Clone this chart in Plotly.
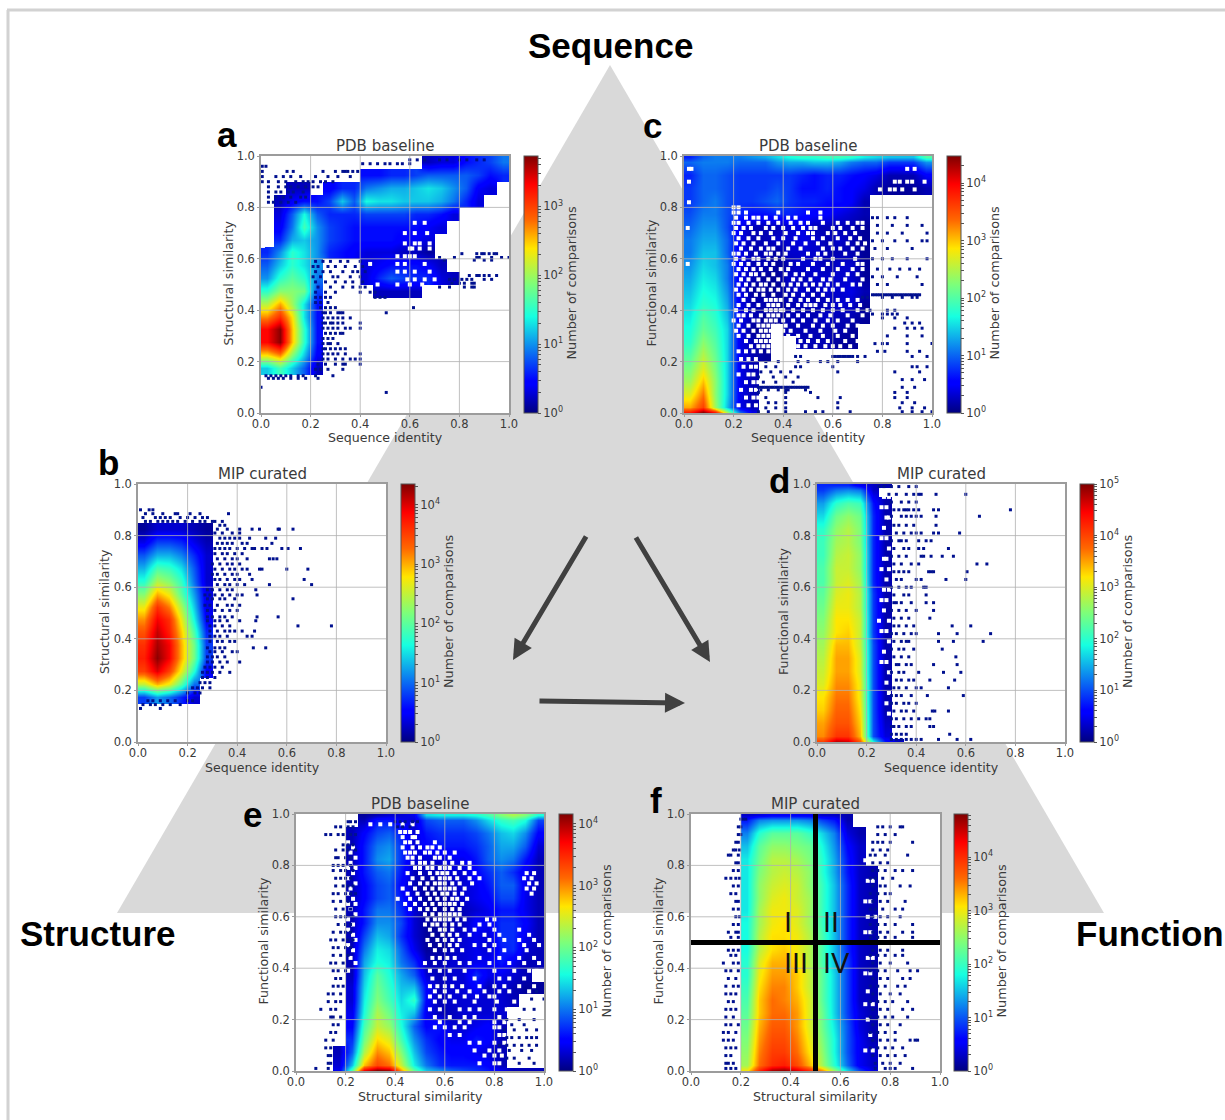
import math
import plotly.graph_objects as go

_ = None
TICKS = [0.0, 0.2, 0.4, 0.6, 0.8, 1.0]
X_CENTERS = [0.025 + 0.05 * i for i in range(20)]
Y_CENTERS_TOP_DOWN = [0.975 - 0.05 * i for i in range(20)]

# log10(count) x 10, top row first, left column first; short rows are blank on the right
a_rows = [
 [_,_,_,_,_,_,_,_,_,_,_,_,_,2,3,3,5,6,7,9],
 [_,_,_,_,_,_,_,_,5,5,6,6,7,8,8,8,8,7,5,6],
 [_,_,2,2,_,4,6,6,9,10,11,11,12,13,12,10,8,4,3],
 [_,2,4,5,5,7,12,8,14,13,13,12,12,12,11,9,6,3],
 [_,3,8,14,8,6,6,6,7,7,7,7,6,6,5,3],
 [_,4,9,16,10,7,6,5,5,5,5,5,5,4,3],
 [_,6,11,12,10,7,6,5,5,5,5,4,4,3],
 [6,10,15,13,10,6,5,4,3,3,3,2,2,1],
 [8,12,15,13,10,_,_,_,3,4,5,5,5,4,2],
 [10,15,17,15,9,_,_,_,3,6,8,7,6,6,3,2],
 [15,19,19,18,7,_,_,_,_,2,2,2,2],
 [21,26,20,13,5],
 [27,31,24,13,5],
 [33,37,25,15,5],
 [33,37,25,15,5],
 [24,27,19,12,4],
 [12,16,12,8,2],
 [],
 [],
 [],
]
a_top = []
a_floor = []
a_specks = [
 (.96,[.005,.02]),(.94,[.005,.105,.13,.25,.3,.33,.34,.35,.37,.39]),(.92,[.005,.06,.09,.12,.16,.22,.27,.31,.36]),
 (.90,[.005,.03,.07,.1,.14,.17,.19,.21,.24,.26,.29]),(.88,[.03,.07,.1,.12,.15,.18,.21,.23]),(.86,[.03,.06,.08,.11,.13,.17]),
 (.84,[.03,.06,.09,.12,.16,.18]),(.82,[.03,.05,.08,.11,.14]),
 (.985,[.6,.63,.66,.72,.75,.8,.83,.87,.9]),(.97,[.41,.44,.47,.5,.52,.55,.57,.6]),
 (.62,[.81,.87,.89,.9,.92,.94,.95]),(.605,[.72,.78,.87,.88,.93,.97,1.0]),(.595,[.74,.86,.9,.93]),
 (.535,[.84,.87,.88,.9,.92,.95]),(.52,[.76,.78,.81,.83,.85,.9,.93]),(.505,[.77,.8,.82,.85,.86]),(.49,[.72,.76,.82,.85,.86]),
 (.59,[.22,.25,.28,.32,.35,.4]),(.57,[.21,.23,.27,.3,.34,.38,.41]),(.55,[.22,.25,.28,.33,.37,.39,.42]),
 (.53,[.21,.24,.29,.31,.36,.4]),(.51,[.22,.26,.3,.34,.37,.41]),(.49,[.23,.28,.33,.37,.4,.42]),(.47,[.22,.26,.3,.4,.44,.46]),
 (.45,[.22,.24,.26,.28,.46,.48,.5]),(.43,[.22,.24,.27]),(.41,[.24,.26,.28,.3,.615]),
 (.39,[.25,.26,.28,.31,.32,.33,.505]),(.37,[.25,.27,.29,.31,.33,.36]),(.35,[.25,.26,.28,.29,.31,.33,.4]),
 (.33,[.25,.27,.29,.31,.34,.36,.4]),(.31,[.26,.28,.3,.32,.33]),(.29,[.25,.27,.29]),(.27,[.25,.27,.28,.31]),
 (.25,[.25,.26,.28,.3,.32,.34]),(.23,[.25,.27,.29,.31,.34,.4]),(.21,[.25,.27,.3,.33,.36,.38,.4]),(.19,[.23,.26,.3,.33,.34,.4]),
 (.17,[.22,.24,.27,.33]),(.145,[.02,.04,.06,.08,.1,.12,.15,.17,.22,.29]),(.135,[.03,.05,.07,.09,.12,.15,.18,.23]),(.1,[.0]),(.08,[.505]),
]
a_holes = [(.74,[.62,.66]),(.70,[.58,.62,.67]),(.66,[.58,.62,.64,.68]),(.64,[.6,.61,.64,.68]),(.61,[.55,.58,.6,.62]),
           (.58,[.44,.55,.58,.66]),(.55,[.55,.58,.62,.68]),(.52,[.59,.62,.66,.7]),(.5,[.47,.55,.6,.65]),(.8,[.008]),(.7,[.008]),(.65,[.008])]

b_rows = [
 [],
 [],
 [],
 [1,3,3,3,2,1],
 [4,8,8,7,4,2],
 [9,13,13,11,7,3],
 [13,19,18,15,9,3],
 [17,24,22,18,10,3],
 [22,30,27,20,12,4],
 [27,36,32,24,14,4],
 [31,39,36,27,16,5],
 [34,41,37,29,19,7],
 [36,42,39,30,21,8],
 [37,43,39,30,21,8],
 [35,40,35,27,17,5],
 [25,30,27,20,10],
 [8,12,10,7,3],
 [],
 [],
 [],
]
b_top = []
b_floor = []
b_specks = [
 (.90,[.01,.045,.06]),(.885,[.03,.06,.1,.15,.16,.21,.25,.365]),(.87,[.02,.07,.09,.11,.13,.17,.2,.23,.26,.28]),
 (.855,[.03,.05,.08,.1,.12,.14,.16,.19,.22,.25,.27,.3,.31,.34]),(.84,[.33,.35]),
 (.825,[.32,.36,.41,.46,.49,.565,.57,.625]),
 (.81,[.31,.34,.38,.41]),
 (.79,[.33,.35,.37,.39,.41,.45,.555,.515]),(.77,[.32,.34,.36,.38,.42,.44,.54]),
 (.75,[.31,.33,.35,.37,.4,.43,.46,.47,.5,.52,.58,.605,.655]),(.73,[.31,.34,.36,.39,.42]),
 (.71,[.32,.35,.38,.4,.44,.53,.545,.56]),(.69,[.3,.33,.36,.38,.41]),(.67,[.31,.34,.37,.39,.42,.44,.49,.5,.6,.685]),
 (.65,[.3,.32,.35,.38,.4,.45]),(.63,[.31,.33,.36,.39,.41,.46,.67]),(.61,[.32,.35,.37,.4,.43,.53,.7]),
 (.59,[.28,.3,.33,.36,.38,.475]),(.57,[.27,.29,.31,.34,.37,.4,.42,.48]),(.555,[.28,.3,.33,.35,.39,.625]),
 (.53,[.27,.29,.32,.36,.38,.41]),(.51,[.28,.31,.34,.37,.4]),(.485,[.28,.3,.33,.35,.38,.48,.565]),
 (.47,[.28,.31,.33,.36,.41,.475]),(.45,[.29,.31,.34,.37,.645,.78]),(.43,[.29,.32,.35,.37,.39,.42,.47]),
 (.41,[.29,.31,.33,.36,.44,.46]),(.39,[.29,.32,.34,.37,.39]),(.365,[.28,.31,.33,.35,.465,.515]),
 (.35,[.29,.31,.34,.38,.4]),(.33,[.28,.3,.32,.35]),(.31,[.28,.3,.33,.36,.41]),(.29,[.27,.29,.31,.34]),
 (.27,[.26,.28,.3,.33,.37]),(.25,[.26,.28,.31]),(.23,[.25,.27,.29]),(.21,[.22,.24,.26,.29]),(.19,[.2,.23,.25]),
 (.16,[.04,.06,.09,.12,.15,.2,.22]),(.145,[.02,.05,.07,.1,.13,.17]),(.13,[.01,.09]),
]
b_holes = []

c_rows = [
 [10,11,11,11,10,10,10,12,13,13,14,14,13,11,10,10,8,8,8,12],
 [7,10,10,9,8,8,8,8,8,7,6,7,7,6,5,4,2,2,2,5],
 [8,10,10,9,8,8,8,9,8,6,6,7,6,5,4,2,1,1,1,2],
 [8,10,11,9,8,8,9,10,8,7,7,6,6,5,2],
 [9,11,11,9,7,6,6,7,7,6,5,5,4,3,2],
 [10,12,12,9,4,2,2,2,3,4,2,2,2,2,1],
 [11,13,13,10,4,2,2,3,3,4,3,2,3,2,1],
 [11,14,14,10,4,2,2,1,3,3,3,2,2,2,1],
 [12,15,14,11,4,2,2,1,2,3,3,2,3,3,1],
 [13,16,15,11,4,2,1,1,3,2,3,3,3,3,1],
 [14,17,16,12,4,1,1,1,2,3,2,3,3,4,2],
 [15,18,17,13,4,2,2,1,2,2,2,2,3,3,1],
 [16,20,18,14,4,2,1,1,2,2,2,3,2,2,1],
 [17,21,19,15,4,1,1,_,2,2,2,2,2,1],
 [18,23,20,15,4,2,1,_,_,2,2,2,1,1],
 [20,25,21,15,4,2,1,_,_,_,_,_,_,_],
 [22,27,22,15,4,2],
 [24,30,23,15,4,2],
 [27,33,23,15,4,2],
 [31,36,24,14,4,2],
]
c_top = [7,10,11,11,11,12,13,15,17,18,18,19,19,18,16,15,14,14,14,20]
c_floor = [38,44,38,24,10,4]
c_specks = [
 (.46,[.76,.77,.78,.79,.8,.81,.82,.83,.84,.85,.86,.87,.88,.89,.9,.91,.92,.93,.94,.95]),(.45,[.72,.74,.8,.84,.88,.92,.94]),
 (.4,[.75,.82,.85]),(.385,[.76,.8,.82,.84,.86]),(.37,[.8,.85,.9]),(.35,[.89,.92,.95]),(.33,[.85,.9,.93,.96]),(.3,[.82,.9,.96]),
 (.27,[.77,.8,.82,.9,1.0]),(.24,[.78,.81,.9,.95]),(.22,[.92,.98]),(.18,[.92,.94,.98]),(.16,[.85,.95]),(.13,[.88,.92,.97]),
 (.1,[.3,.31,.32,.33,.34,.35,.36,.37,.38,.39,.4,.41,.42,.43,.44,.45,.46,.47,.48,.49,.5,.88,.93]),
 (.08,[.3,.41,.51,.85,.9]),(.06,[.33,.41,.54,.63,.85,.9]),(.04,[.34,.37,.41,.62,.88,.93]),
 (.02,[.33,.37,.41,.62,.87,.92,.97]),(.005,[.3,.34,.41,.49,.53,.56,.67,.88,.92,.96,1.0]),
 (.18,[.33,.37,.45,.47,.6]),(.16,[.31,.35,.39,.43,.62]),(.14,[.3,.36,.41,.46]),
 (.12,[.32,.37,.44]),(.09,[.31,.34,.38,.41,.42,.49]),
 (.22,[.45,.47,.6,.61,.62,.63,.64,.65,.66,.67,.68,.7,.73]),(.2,[.33,.38,.46,.5,.55,.58,.62,.7]),
 (.76,[.76,.78,.82,.85,.9]),(.73,[.78,.84,.9,.96]),(.7,[.78,.82,.88,.98]),(.67,[.76,.8,.85,.9,.96,.98]),(.64,[.77,.82,.92]),
 (.6,[.76,.8,.84,.9,.98]),(.56,[.78,.83,.87,.91,.95]),(.53,[.76,.8,.86,.94]),(.5,[.78,.82,.96]),
]
c_holes = [
 (.78,[.2,.22,.25,.38,.5,.55]),(.76,[.21,.25,.28,.30,.33,.37,.42,.45,.55]),(.74,[.2,.22,.26,.3,.34,.38,.43,.47,.5,.56,.62,.66,.7,.72]),
 (.72,[.21,.24,.27,.33,.36,.4,.44,.48,.51,.53,.6,.63,.68,.72]),(.70,[.2,.23,.28,.31,.35,.41,.46,.5,.52,.58,.61,.65,.69]),
 (.68,[.22,.26,.3,.36,.4,.45,.52,.56,.62,.67,.71]),(.66,[.21,.24,.28,.33,.38,.44,.49,.54,.59,.66,.7,.73]),
 (.64,[.23,.27,.31,.34,.36,.42,.47,.56,.6,.63,.68,.72]),(.62,[.2,.22,.25,.29,.33,.35,.38,.41,.5,.54,.57,.65,.7]),
 (.60,[.21,.24,.28,.3,.34,.37,.4,.48,.53,.55,.6,.69]),(.58,[.2,.23,.26,.3,.33,.36,.43,.46,.52,.58,.64,.7,.72]),
 (.56,[.22,.25,.28,.31,.35,.39,.42,.5,.56,.62,.68,.72]),(.54,[.21,.24,.27,.29,.32,.36,.41,.45,.48,.53,.6,.66,.7]),
 (.52,[.23,.26,.3,.34,.38,.44,.47,.51,.56,.59,.65,.72]),(.50,[.22,.25,.28,.31,.33,.36,.4,.43,.46,.49,.52,.55,.58,.62,.68,.71]),
 (.48,[.21,.24,.27,.3,.32,.35,.38,.42,.45,.5,.54,.57,.6,.64]),(.46,[.22,.25,.29,.32,.36,.41,.44,.48,.52,.56]),
 (.44,[.24,.28,.33,.35,.37,.39,.43,.47,.5,.54,.58,.62,.66,.7]),(.42,[.22,.26,.3,.34,.36,.38,.42,.46,.49,.51,.53,.57,.6,.63,.67,.71]),
 (.40,[.21,.25,.28,.33,.35,.37,.39,.4,.44,.48,.52,.56,.6,.64,.7,.74]),(.38,[.22,.24,.27,.31,.34,.36,.38,.42,.46,.5,.55,.59,.66,.72]),
 (.36,[.2,.23,.28,.3,.33,.35,.37,.4,.44,.48,.53,.58,.62,.68]),(.34,[.22,.26,.3,.32,.34,.36,.38,.41,.46,.52,.56,.6,.66,.7]),
 (.32,[.21,.24,.28,.31,.33,.35,.37,.4,.43,.49,.55,.61,.65,.71]),(.30,[.22,.26,.3,.32,.34,.36,.39,.42,.46,.51,.56,.62,.68]),
 (.28,[.25,.29,.31,.33,.35,.38,.41,.44,.47,.5,.54,.58,.65,.7]),(.26,[.27,.3,.32,.34,.36,.39,.43,.46,.49,.53,.57,.6,.63,.67]),
 (.24,[.22,.25,.28,.31,.34,.37,.4,.44,.47,.51,.55,.58]),
 (.21,[.23,.26,.29]),(.18,[.24,.27,.29]),(.15,[.22,.26,.28]),(.12,[.25,.28,.3]),(.09,[.23,.27,.29]),(.06,[.25,.28,.3]),(.03,[.22,.26,.29]),
 (.95,[.02,.03,.9,.93]),(.9,[.02,.85,.87,.9,.92,.97]),(.87,[.79,.83,.85,.88,.93]),(.84,[.76,.79,.81,.86,.9,.95]),
 (.82,[.02,.77,.8,.83,.87,.92,.97]),(.8,[.2,.22,.9]),(.58,[.015]),(.72,[.015]),
]

d_rows = [
 [9,12,13,12,3],
 [14,20,22,21,7,2],
 [17,24,26,24,8,2],
 [20,26,28,25,8,2],
 [21,27,28,25,8,2],
 [21,28,29,26,8,2],
 [22,29,29,26,8,2],
 [22,29,30,27,8,2],
 [23,30,31,28,9,2],
 [24,31,31,28,9,2],
 [25,32,32,29,9,2],
 [26,32,33,29,9,2],
 [27,34,34,29,10,2],
 [28,35,35,30,10,2],
 [29,35,35,30,10,2],
 [30,36,36,31,10,2],
 [32,37,37,31,10,2],
 [33,38,38,32,10,2],
 [35,39,39,33,10,3],
 [36,41,41,34,10,4],
]
d_top = [8,8,8,5,3,2]
d_floor = [40,47,46,38,18,7,3]
d_specks = [
 (.99,[.25,.27,.3,.33,.37,.4]),(.96,[.29,.32,.36,.39,.41,.6,.48,.42]),(.93,[.3,.34,.37,.4]),(.90,[.31,.33,.35,.36,.37,.39,.41,.47,.49,.78]),
 (.875,[.3,.34,.36,.38,.4,.42,.48,.655]),(.84,[.31,.33,.36,.39,.48]),(.81,[.32,.35,.38,.4,.42,.47,.49,.575]),
 (.78,[.3,.33,.34,.36,.41,.44,.46]),(.75,[.31,.35,.37,.41,.43,.53]),(.72,[.3,.33,.36,.42,.43,.46,.505,.55]),
 (.69,[.31,.34,.38,.41,.645,.685]),(.66,[.31,.33,.35,.37,.45,.46,.47,.605]),(.63,[.32,.34,.4,.42,.52,.6]),
 (.60,[.3,.33,.36,.38,.43,.44]),(.57,[.31,.35,.37,.44]),(.54,[.31,.32,.34,.38,.44,.47]),(.51,[.3,.33,.36,.4,.47]),
 (.48,[.31,.34,.37,.455]),(.45,[.31,.33,.36,.39,.545,.62]),(.42,[.3,.32,.35,.38,.4,.49,.565,.7]),(.39,[.31,.34,.36,.37,.67,.49,.55]),
 (.36,[.3,.33,.35,.39,.505]),(.33,[.31,.34,.37,.56]),(.30,[.32,.33,.36,.38,.47,.565]),(.27,[.3,.33,.35,.41,.51,.58]),
 (.24,[.32,.34,.37,.39,.455,.555]),(.21,[.31,.33,.36,.4,.42,.53]),(.18,[.3,.32,.34,.38,.445,.59]),(.15,[.3,.32,.35,.37,.4]),
 (.12,[.31,.34,.36,.39,.465,.475,.53]),(.09,[.3,.32,.35,.38,.41,.44,.455]),(.06,[.3,.31,.33,.36,.38,.455,.47]),
 (.03,[.3,.32,.34,.36,.535]),(.01,[.3,.32,.34,.36,.38,.4,.42,.49,.565,.62]),
]
d_holes = [(.95,[.27,.29]),(.91,[.26,.28]),(.87,[.28,.29]),(.83,[.27]),(.79,[.26,.28]),(.75,[.29]),(.71,[.27,.28]),(.67,[.26,.29]),
           (.63,[.28]),(.59,[.27,.29]),(.55,[.26,.28]),(.51,[.27]),(.47,[.25,.29]),(.43,[.26,.28]),(.39,[.29]),(.35,[.27]),(.31,[.26,.28]),(.27,[.29]),(.23,[.28]),(.19,[.29]),(.15,[.28]),(.11,[.29])]

e_rows = [
 [_,_,_,_,_,2,6,6,4,3,8,9,9,9,11,14,17,18,16,8],
 [_,_,_,_,2,5,8,9,6,3,6,7,7,7,8,10,13,14,11,5],
 [_,_,_,_,2,6,10,11,7,3,5,6,6,6,7,9,12,12,9,3],
 [_,_,_,_,2,6,11,12,7,3,3,3,4,4,6,9,11,10,6,2],
 [_,_,_,_,2,6,9,10,6,2,2,2,3,3,5,7,9,7,4,2],
 [_,_,_,_,2,5,8,9,5,2,1,1,2,3,4,6,9,9,4,2],
 [_,_,_,_,2,5,8,9,6,3,1,1,2,3,4,5,8,8,4,2],
 [_,_,_,_,2,6,10,10,7,3,1,1,1,2,3,4,6,6,4,2],
 [_,_,_,_,2,6,11,11,8,3,1,1,2,2,5,4,7,7,5,2],
 [_,_,_,_,2,8,13,12,7,3,1,1,2,3,4,3,7,7,4,2],
 [_,_,_,_,2,10,15,14,9,4,1,1,2,3,4,3,6,7,3,2],
 [_,_,_,_,2,12,16,15,10,7,2,2,3,3,4,4,6,4,2,2],
 [_,_,_,_,2,13,19,16,12,9,3,2,3,3,7,4,4,3,2],
 [_,_,_,_,3,14,20,17,13,13,5,2,3,3,5,2,3,2,1,1],
 [_,_,_,_,3,15,21,18,14,17,5,2,3,3,3,3,3,2],
 [_,_,_,_,4,16,23,20,15,13,4,2,2,3,3,3,3],
 [_,_,_,_,5,18,24,22,16,9,5,6,3,3,4,5,2],
 [_,_,_,_,7,20,27,25,18,11,7,5,4,4,6,5,2],
 [_,_,_,2,9,23,30,28,21,13,8,6,5,5,4,3,2],
 [_,_,_,3,13,28,33,31,24,15,10,7,6,6,6,5,2],
]
e_top = [_,_,_,_,_,1,2,3,3,4,14,15,15,15,16,18,21,23,21,16]
e_floor = [_,_,_,4,18,37,41,40,29,19,13,11,9,8,7,6,4,2,2,2]
e_specks = [
 (.97,[.21,.22,.24,.4,.42,.44,.47,.49]),(.95,[.16,.18,.21,.23,.41,.43,.46]),(.92,[.12,.14,.17,.19,.22,.24]),(.88,[.19,.21,.23]),
 (.86,[.16,.19,.21,.24]),(.83,[.16,.17,.2,.22]),(.8,[.15,.17,.19,.22]),(.78,[.15,.18,.2,.23]),(.75,[.16,.18,.2,.22]),(.72,[.16,.19,.21,.23]),
 (.69,[.15,.17,.2,.22,.24]),(.66,[.15,.18,.21]),(.63,[.16,.19,.22]),(.6,[.16,.18,.2,.23]),(.57,[.17,.2,.22]),(.54,[.15,.18,.2,.22]),
 (.51,[.14,.16,.19,.21,.23]),(.48,[.15,.17,.2,.22]),(.45,[.15,.18,.21]),(.42,[.14,.16,.19]),(.39,[.15,.17,.2]),(.36,[.16,.18]),
 (.33,[.15,.17,.19]),(.3,[.13,.15,.18]),(.27,[.13,.16,.18]),(.24,[.1,.14,.16]),(.21,[.14,.15,.18]),(.18,[.15,.17]),(.15,[.14,.16]),
 (.12,[.12,.15]),(.09,[.12,.14]),(.06,[.13,.14]),(.03,[.13,.14]),(.01,[.08,.13]),
 (.13,[.85,.87,.9,.93,.95,.97]),(.1,[.82,.85,.88,.91,.94,.97]),(.08,[.86,.91,.95]),(.05,[.85,.88,.94]),(.03,[.9,.96]),
 (.16,[.84,.88,.93,.97]),(.18,[.87,.92]),(.2,[.85,.9,.96]),(.24,[.92,.96]),(.28,[.95,1.0]),(.31,[.97]),
]
e_holes = [
 (.96,[.3,.34,.38,.43,.47]),(.93,[.42,.44,.46,.49]),(.91,[.43,.47,.48]),(.89,[.21,.44,.46,.49,.56]),(.87,[.23,.43,.47,.5,.53,.55,.58]),
 (.85,[.22,.44,.46,.48,.52,.54,.57,.6,.64]),(.83,[.24,.45,.47,.5,.56,.58,.62]),(.81,[.22,.47,.5,.52,.55,.6,.63,.67,.7]),
 (.79,[.21,.24,.48,.5,.53,.55,.58,.6,.62,.66,.7]),(.77,[.23,.45,.5,.54,.57,.59,.61,.64,.68,.72,.93,.96]),(.75,[.21,.47,.51,.55,.58,.6,.62,.65,.7,.74,.92,.95]),
 (.73,[.24,.46,.5,.53,.56,.58,.6,.63,.66,.71,.94,.97]),(.71,[.22,.43,.48,.52,.55,.58,.6,.62,.64,.68,.93,.96]),(.69,[.21,.45,.49,.53,.56,.59,.61,.64,.67,.95]),
 (.67,[.23,.41,.46,.5,.54,.57,.6,.63,.65,.69]),(.65,[.21,.24,.44,.48,.52,.55,.58,.6,.62,.64,.67]),(.63,[.22,.46,.5,.53,.56,.6,.63,.66]),
 (.61,[.24,.52,.55,.58,.6,.62,.64,.66]),(.59,[.21,.53,.56,.58,.6,.62,.65,.68,.77,.8]),(.57,[.23,.52,.55,.57,.6,.63,.66,.74,.78]),
 (.55,[.21,.54,.58,.6,.63,.68,.72,.8,.9]),(.53,[.23,.55,.59,.62,.65,.7,.76,.82,.94]),(.51,[.24,.53,.57,.6,.63,.66,.78,.84,.9,.96]),
 (.49,[.21,.54,.58,.62,.65,.72,.76,.8,.92,.98]),(.47,[.23,.56,.6,.63,.67,.78,.84,.93]),(.44,[.22,.55,.58,.61,.64,.74,.82,.9,.96]),
 (.42,[.24,.52,.56,.6,.66,.7,.78,.86,.92,.98]),(.39,[.21,.54,.58,.62,.68,.8,.88,.94,.97]),(.36,[.55,.6,.64,.72,.82,.86,.92,.98]),
 (.33,[.54,.57,.6,.63,.67,.74,.8,.84,.9,.96]),(.31,[.56,.6,.65,.7,.76,.82,.86,.94]),(.29,[.54,.58,.62,.68,.73,.78,.8,.92]),
 (.27,[.56,.6,.64,.72,.81,.88,.96]),(.24,[.54,.58,.66,.7,.74,.8,.85,.9]),(.21,[.56,.62,.68,.72,.82,.86,.9,.96]),
 (.19,[.58,.66,.7,.8,.84,.88,.92]),(.17,[.56,.6,.64,.68,.8,.82,.86,.9]),(.14,[.62,.66,.82,.84,.88,.92]),
 (.11,[.7,.74,.8,.84,.9,.94]),(.08,[.72,.78,.82,.88,.92,.94,.97]),(.06,[.76,.8,.83,.92,.97]),(.03,[.74,.8,.82,.86,.9,.94]),
]

f_rows = [
 [_,_,_,_,7,12,13,13,13,12,9,7,2],
 [_,_,_,_,12,19,22,22,22,20,16,12,4,2],
 [_,_,_,_,15,22,25,25,24,23,18,13,6,3],
 [_,_,_,_,17,23,27,27,26,24,19,14,7,3],
 [_,_,_,_,17,24,27,28,27,25,19,14,7,3,2],
 [_,_,_,_,17,25,28,29,28,25,20,15,8,3,2],
 [_,_,_,_,17,25,29,30,28,26,20,15,8,3,2],
 [_,_,_,_,17,26,30,30,29,26,20,15,8,3,2],
 [_,_,_,_,18,26,30,31,29,26,20,15,8,3,2],
 [_,_,_,_,18,27,31,31,30,27,21,15,8,3,2],
 [_,_,_,_,18,27,31,32,30,27,21,15,8,3,2],
 [_,_,_,_,19,29,33,33,31,27,21,15,9,3,2],
 [_,_,_,_,19,30,34,34,32,28,22,16,9,3,2],
 [_,_,_,_,20,31,35,35,32,28,22,16,9,3,2],
 [_,_,_,_,21,32,36,35,33,29,22,16,9,3,2],
 [_,_,_,_,22,32,36,36,34,29,23,16,9,4,2],
 [_,_,_,_,23,33,37,37,34,29,23,17,10,4,2],
 [_,_,_,_,24,34,38,38,35,30,24,18,10,5,2],
 [_,_,_,_,25,35,39,39,36,31,25,18,10,5,3],
 [_,_,_,_,26,36,40,41,38,33,26,19,11,5,3],
]
f_top = [_,_,_,_,3,4,5,5,5,5,3,3,2]
f_floor = [_,_,_,_,30,40,46,47,44,40,34,25,16,9,4]
f_specks = [
 (.98,[.2,.21,.22]),(.95,[.19,.2,.75,.77,.8,.84,.85]),(.92,[.19,.2,.75,.78,.82]),(.89,[.18,.19,.73,.75,.77,.8,.89]),
 (.86,[.17,.18,.195,.73,.76,.79]),(.84,[.15,.16,.19,.72,.74,.78,.87]),(.81,[.18,.19,.73,.76,.79]),(.78,[.17,.19,.73,.75,.78,.82,.85,.89]),
 (.75,[.14,.16,.18,.195,.72,.74,.77,.81]),(.72,[.17,.19,.73,.76,.78,.84,.88]),(.69,[.16,.18,.72,.75,.78,.8]),
 (.66,[.18,.19,.73,.76,.79,.86]),(.63,[.17,.19,.72,.74,.77,.82,.85]),(.6,[.18,.195,.73,.76,.79,.84]),
 (.57,[.17,.19,.72,.75,.78,.82,.89]),(.54,[.15,.18,.19,.73,.76,.79,.85,.89]),(.52,[.16,.19,.72,.75,.78,.82,.89]),
 (.47,[.15,.17,.19,.73,.76,.79,.85]),(.45,[.16,.18,.72,.75,.78,.82,.85]),(.42,[.13,.17,.19,.73,.76,.8,.87]),
 (.39,[.14,.16,.19,.72,.75,.78,.83,.88,.91]),(.36,[.15,.18,.73,.76,.79,.85,.88]),(.33,[.14,.17,.19,.72,.75,.78,.83,.86]),
 (.3,[.14,.16,.18,.73,.76,.8,.84]),(.27,[.15,.17,.72,.75,.78,.81,.87]),(.24,[.14,.16,.18,.73,.76,.79,.85,.89]),
 (.21,[.14,.17,.72,.75,.78,.81,.87]),(.18,[.14,.16,.19,.73,.76,.79,.84]),(.15,[.13,.15,.18,.72,.75,.78,.82]),
 (.12,[.13,.15,.17,.73,.76,.79,.82,.88,.9,.91]),(.09,[.14,.16,.18,.72,.75,.78,.81,.85]),(.06,[.14,.16,.73,.76,.79,.82,.86]),
 (.03,[.14,.15,.17,.74,.77,.8,.84]),(.01,[.14,.16,.18,.74,.78,.8,.82,.89]),
]
f_holes = [(.9,[.72,.74]),(.82,[.7,.72]),(.74,[.71,.73]),(.66,[.7,.72]),(.6,[.71,.74]),(.54,[.7,.72]),(.44,[.71,.73]),(.38,[.7,.72]),(.31,[.71]),(.26,[.7,.73]),(.2,[.71]),(.14,[.72]),(.08,[.7,.73])]

JET = [[0,'#00007f'],[0.11,'#0000ff'],[0.125,'#0000ff'],[0.375,'#16ffe1'],[0.5,'#7dff7a'],
       [0.64,'#ffe600'],[0.66,'#ffd000'],[0.75,'#ff6800'],[0.89,'#ff0000'],[1,'#7f0000']]

W, H = 1225, 1120
def px(v): return v / W
def py(v): return 1 - v / H

panels = [
 dict(rows=a_rows, top=a_top, floor=a_floor, sp=a_specks, ho=a_holes, zmax=3.73, box=(261,509,156,413), title='PDB baseline', xt='Sequence identity', yt='Structural similarity', cb=524),
 dict(rows=b_rows, top=b_top, floor=b_floor, sp=b_specks, ho=b_holes, zmax=4.35, box=(138,386,484,742), title='MIP curated', xt='Sequence identity', yt='Structural similarity', cb=401),
 dict(rows=c_rows, top=c_top, floor=c_floor, sp=c_specks, ho=c_holes, zmax=4.47, box=(684,932,156,413), title='PDB baseline', xt='Sequence identity', yt='Functional similarity', cb=947),
 dict(rows=d_rows, top=d_top, floor=d_floor, sp=d_specks, ho=d_holes, zmax=5.0, box=(817,1065,484,742), title='MIP curated', xt='Sequence identity', yt='Functional similarity', cb=1080),
 dict(rows=e_rows, top=e_top, floor=e_floor, sp=e_specks, ho=e_holes, zmax=4.16, box=(296,544,814,1071), title='PDB baseline', xt='Structural similarity', yt='Functional similarity', cb=559),
 dict(rows=f_rows, top=f_top, floor=f_floor, sp=f_specks, ho=f_holes, zmax=4.81, box=(691,940,814,1071), title='MIP curated', xt='Structural similarity', yt='Functional similarity', cb=954),
]

GRID = 'rgba(176,176,176,0.8)'
SPINE = '#9c9c9c'
TXT = '#3a3a3a'
FONT = 'DejaVu Sans'

fig = go.Figure()
layout = dict(width=W, height=H, margin=dict(l=0, r=0, t=0, b=0, autoexpand=False), paper_bgcolor='white',
              plot_bgcolor='rgba(0,0,0,0)', showlegend=False, shapes=[], annotations=[])

def pad(r):
    return [(v / 10 if v is not None else None) for v in (list(r) + [None] * 20)[:20]]

def flat(rows):
    xs, ys = [], []
    for y, row in rows:
        for x in row:
            xs.append(x); ys.append(y)
    return xs, ys

def note(text, x, y, size, family=FONT, color=TXT, angle=0):
    layout['annotations'].append(dict(text=text, xref='paper', yref='paper', x=px(x), y=py(y), xanchor='center', yanchor='middle',
                                      showarrow=False, textangle=angle, font=dict(family=family, size=size, color=color)))

layout['shapes'].append(dict(type='line', xref='paper', yref='paper', x0=px(8), x1=px(8), y0=0, y1=py(10), line=dict(color='#d2d2d2', width=3), layer='below'))
layout['shapes'].append(dict(type='line', xref='paper', yref='paper', x0=px(7), x1=1, y0=py(10), y1=py(10), line=dict(color='#d2d2d2', width=3), layer='below'))
layout['shapes'].append(dict(type='path', xref='paper', yref='paper', layer='below',
    path=f'M {px(610)} {py(65)} L {px(1104)} {py(913)} L {px(117)} {py(913)} Z',
    fillcolor='#d9d9d9', line=dict(width=0)))

for i, p in enumerate(panels):
    n = '' if i == 0 else str(i + 1)
    xa, ya = f'x{n}', f'y{n}'
    l, r, t, b = p['box']
    ys, zs = [], []
    if p['floor']:
        ys.append(0.004); zs.append(pad(p['floor']))
    for yc, row in zip(reversed(Y_CENTERS_TOP_DOWN), reversed(p['rows'])):
        ys.append(yc); zs.append(pad(row))
    if p['top']:
        ys.append(0.996); zs.append(pad(p['top']))
    tv, tt = [], []
    for d in range(0, int(math.floor(p['zmax'])) + 1):
        tv.append(d); tt.append(f'10<sup>{d}</sup>')
        for m in range(2, 10):
            if d + math.log10(m) < p['zmax']:
                tv.append(d + math.log10(m)); tt.append('')
    fig.add_trace(go.Heatmap(x=X_CENTERS, y=ys, z=zs, zmin=0, zmax=p['zmax'], colorscale=JET, zsmooth='best',
        xaxis=xa, yaxis=ya, hoverongaps=False,
        colorbar=dict(x=px(p['cb']), xanchor='left', xref='paper', y=py(b), yanchor='bottom', yref='paper', len=(b - t) / H, lenmode='fraction',
                      thickness=14, thicknessmode='pixels', outlinecolor='#555', outlinewidth=1, xpad=0, ypad=0,
                      tickmode='array', tickvals=tv, ticktext=tt, ticks='outside', ticklen=3, tickcolor='#555',
                      tickfont=dict(family=FONT, size=11.5, color=TXT))))
    if p['ho']:
        hx, hy = flat(p['ho'])
        fig.add_trace(go.Scatter(x=hx, y=hy, mode='markers', xaxis=xa, yaxis=ya,
                                 marker=dict(symbol='square', size=4, color='white', line=dict(width=0))))
    if p['sp']:
        sx, sy = flat(p['sp'])
        fig.add_trace(go.Scatter(x=sx, y=sy, mode='markers', xaxis=xa, yaxis=ya,
                                 marker=dict(symbol='square', size=3, color='#00108f', line=dict(width=0))))
    common = dict(range=[0, 1], tickmode='array', tickvals=TICKS, ticktext=[f'{t:.1f}' for t in TICKS], showgrid=False,
                  zeroline=False, showline=True, mirror=True, linecolor=SPINE, linewidth=1.5, ticks='outside', ticklen=2,
                  tickcolor=SPINE, tickfont=dict(family=FONT, size=11.5, color=TXT), layer='above traces')
    layout['xaxis' + n] = dict(common, domain=[px(l), px(r)], anchor=ya, ticklabelstandoff=-3)
    layout['yaxis' + n] = dict(common, domain=[py(b), py(t)], anchor=xa)
    layout['shapes'].append(dict(type='rect', xref=xa, yref=ya, x0=0, x1=1, y0=0, y1=1, fillcolor='white',
                                 line=dict(width=0), layer='below'))
    for v in TICKS[1:-1]:
        layout['shapes'].append(dict(type='line', xref=xa, yref=ya, x0=v, x1=v, y0=0, y1=1, line=dict(color=GRID, width=1), layer='above'))
        layout['shapes'].append(dict(type='line', xref=xa, yref=ya, x0=0, x1=1, y0=v, y1=v, line=dict(color=GRID, width=1), layer='above'))
    note(p['title'], (l + r) / 2, t - 10, 15)
    note(p['xt'], (l + r) / 2, b + 25, 12.6)
    note(p['yt'], l - 33, (t + b) / 2 - 1, 12.6, angle=-90)
    note('Number of comparisons', p['cb'] + 47, (t + b) / 2 - 2, 12.8, angle=-90)

layout['shapes'].append(dict(type='line', xref='x6', yref='y6', x0=0.5, x1=0.5, y0=0, y1=1, line=dict(color='black', width=5), layer='above'))
layout['shapes'].append(dict(type='line', xref='x6', yref='y6', x0=0, x1=1, y0=0.5, y1=0.5, line=dict(color='black', width=5), layer='above'))
for txt, x, y in [('I', .39, .576), ('II', .563, .576), ('III', .42, .42), ('IV', .584, .42)]:
    layout['annotations'].append(dict(text=txt, xref='x6', yref='y6', x=x, y=y, xanchor='center', yanchor='middle', showarrow=False,
                                      font=dict(family=FONT, size=27, color='#111')))

for txt, x, y in [('Sequence', 610, 46), ('Structure', 98, 933), ('Function', 1150, 933)]:
    note(f'<b>{txt}</b>', x, y, 35, family='Liberation Sans', color='black')
for txt, x, y in [('a', 227, 134), ('b', 108, 462), ('c', 652, 125), ('d', 779, 481), ('e', 252, 814), ('f', 656, 800)]:
    note(f'<b>{txt}</b>', x, y, 35, family='Liberation Sans', color='black')
for x0, y0, x1, y1 in [(587, 535, 513, 660), (635, 536, 710, 662), (538, 701, 685, 703)]:
    layout['annotations'].append(dict(text='', xref='paper', yref='paper', x=px(x1), y=py(y1), axref='pixel', ayref='pixel',
                                      ax=x0 - x1, ay=y0 - y1, showarrow=True, arrowhead=2, arrowsize=0.8, arrowwidth=5, arrowcolor='#404040'))

fig.update_layout(**layout)
fig.write_html('out.html', config={'displayModeBar': False},
               post_script="document.body.style.margin='0';document.body.style.overflow='hidden';")
